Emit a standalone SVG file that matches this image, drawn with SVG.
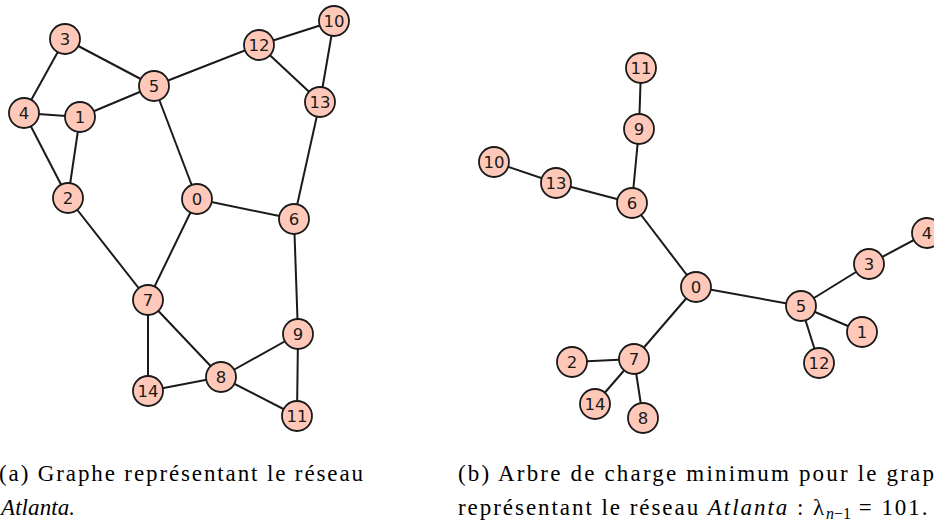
<svg xmlns="http://www.w3.org/2000/svg" width="934" height="527" viewBox="0 0 934 527">
<style>
.e{stroke:#1a1a1a;stroke-width:2;fill:none}
.n circle{fill:#ffc8b8;stroke:#1a1a1a;stroke-width:1.8}
.n text{font-family:"DejaVu Sans",sans-serif;font-size:16.5px;fill:#1a1a1a;text-anchor:middle;dominant-baseline:central}
.cap{font-family:"Liberation Serif","DejaVu Serif","Times New Roman",serif;font-size:23px;fill:#000}
.it{font-style:italic}
</style>
<rect width="934" height="527" fill="#fff"/>
<g id="connectors-a">
<line class="e" x1="65" y1="39" x2="24" y2="113"/>
<line class="e" x1="65" y1="39" x2="154" y2="86"/>
<line class="e" x1="24" y1="113" x2="80" y2="117"/>
<line class="e" x1="24" y1="113" x2="68" y2="198"/>
<line class="e" x1="80" y1="117" x2="68" y2="198"/>
<line class="e" x1="80" y1="117" x2="154" y2="86"/>
<line class="e" x1="154" y1="86" x2="259" y2="45"/>
<line class="e" x1="154" y1="86" x2="197" y2="199"/>
<line class="e" x1="259" y1="45" x2="334" y2="21"/>
<line class="e" x1="259" y1="45" x2="320" y2="102"/>
<line class="e" x1="334" y1="21" x2="320" y2="102"/>
<line class="e" x1="320" y1="102" x2="294" y2="219"/>
<line class="e" x1="197" y1="199" x2="294" y2="219"/>
<line class="e" x1="197" y1="199" x2="148" y2="300"/>
<line class="e" x1="68" y1="198" x2="148" y2="300"/>
<line class="e" x1="294" y1="219" x2="298" y2="334"/>
<line class="e" x1="148" y1="300" x2="148" y2="391"/>
<line class="e" x1="148" y1="300" x2="221" y2="377"/>
<line class="e" x1="148" y1="391" x2="221" y2="377"/>
<line class="e" x1="221" y1="377" x2="298" y2="334"/>
<line class="e" x1="221" y1="377" x2="297" y2="416"/>
<line class="e" x1="298" y1="334" x2="297" y2="416"/>
</g>
<g id="connectors-b">
<line class="e" x1="641" y1="68" x2="639" y2="129"/>
<line class="e" x1="639" y1="129" x2="632" y2="203"/>
<line class="e" x1="494" y1="162" x2="556" y2="183"/>
<line class="e" x1="556" y1="183" x2="632" y2="203"/>
<line class="e" x1="632" y1="203" x2="696" y2="287"/>
<line class="e" x1="696" y1="287" x2="801" y2="306"/>
<line class="e" x1="801" y1="306" x2="869" y2="264"/>
<line class="e" x1="869" y1="264" x2="927" y2="233"/>
<line class="e" x1="801" y1="306" x2="862" y2="332"/>
<line class="e" x1="801" y1="306" x2="819" y2="363"/>
<line class="e" x1="696" y1="287" x2="634" y2="359"/>
<line class="e" x1="634" y1="359" x2="572" y2="362"/>
<line class="e" x1="634" y1="359" x2="595" y2="404"/>
<line class="e" x1="634" y1="359" x2="643" y2="418"/>
</g>
<g id="a0" class="n"><circle cx="197" cy="199" r="15"/><text x="197" y="199">0</text></g>
<g id="a1" class="n"><circle cx="80" cy="117" r="15"/><text x="80" y="117">1</text></g>
<g id="a2" class="n"><circle cx="68" cy="198" r="15"/><text x="68" y="198">2</text></g>
<g id="a3" class="n"><circle cx="65" cy="39" r="15"/><text x="65" y="39">3</text></g>
<g id="a4" class="n"><circle cx="24" cy="113" r="15"/><text x="24" y="113">4</text></g>
<g id="a5" class="n"><circle cx="154" cy="86" r="15"/><text x="154" y="86">5</text></g>
<g id="a6" class="n"><circle cx="294" cy="219" r="15"/><text x="294" y="219">6</text></g>
<g id="a7" class="n"><circle cx="148" cy="300" r="15"/><text x="148" y="300">7</text></g>
<g id="a8" class="n"><circle cx="221" cy="377" r="15"/><text x="221" y="377">8</text></g>
<g id="a9" class="n"><circle cx="298" cy="334" r="15"/><text x="298" y="334">9</text></g>
<g id="a10" class="n"><circle cx="334" cy="21" r="15"/><text x="334" y="21">10</text></g>
<g id="a11" class="n"><circle cx="297" cy="416" r="15"/><text x="297" y="416">11</text></g>
<g id="a12" class="n"><circle cx="259" cy="45" r="15"/><text x="259" y="45">12</text></g>
<g id="a13" class="n"><circle cx="320" cy="102" r="15"/><text x="320" y="102">13</text></g>
<g id="a14" class="n"><circle cx="148" cy="391" r="15"/><text x="148" y="391">14</text></g>
<g id="b0" class="n"><circle cx="696" cy="287" r="15"/><text x="696" y="287">0</text></g>
<g id="b1" class="n"><circle cx="862" cy="332" r="15"/><text x="862" y="332">1</text></g>
<g id="b2" class="n"><circle cx="572" cy="362" r="15"/><text x="572" y="362">2</text></g>
<g id="b3" class="n"><circle cx="869" cy="264" r="15"/><text x="869" y="264">3</text></g>
<g id="b4" class="n"><circle cx="927" cy="233" r="15"/><text x="927" y="233">4</text></g>
<g id="b5" class="n"><circle cx="801" cy="306" r="15"/><text x="801" y="306">5</text></g>
<g id="b6" class="n"><circle cx="632" cy="203" r="15"/><text x="632" y="203">6</text></g>
<g id="b7" class="n"><circle cx="634" cy="359" r="15"/><text x="634" y="359">7</text></g>
<g id="b8" class="n"><circle cx="643" cy="418" r="15"/><text x="643" y="418">8</text></g>
<g id="b9" class="n"><circle cx="639" cy="129" r="15"/><text x="639" y="129">9</text></g>
<g id="b10" class="n"><circle cx="494" cy="162" r="15"/><text x="494" y="162">10</text></g>
<g id="b11" class="n"><circle cx="641" cy="68" r="15"/><text x="641" y="68">11</text></g>
<g id="b12" class="n"><circle cx="819" cy="363" r="15"/><text x="819" y="363">12</text></g>
<g id="b13" class="n"><circle cx="556" cy="183" r="15"/><text x="556" y="183">13</text></g>
<g id="b14" class="n"><circle cx="595" cy="404" r="15"/><text x="595" y="404">14</text></g>
<g id="captions">
<text class="cap" x="-1" y="481" textLength="364" lengthAdjust="spacing">(a) Graphe représentant le réseau</text>
<text class="cap it" x="1" y="515" textLength="74" lengthAdjust="spacing">Atlanta.</text>
<text class="cap" x="458" y="481" textLength="476" lengthAdjust="spacing">(b) Arbre de charge minimum pour le grap</text>
<text class="cap" x="458" y="515" letter-spacing="1.95">représentant le réseau <tspan class="it">Atlanta</tspan> : λ<tspan class="it" font-size="16" dy="4" letter-spacing="0">n</tspan><tspan font-size="16" letter-spacing="0">−1</tspan><tspan dy="-4"> = 101.</tspan></text>
</g>
</svg>
